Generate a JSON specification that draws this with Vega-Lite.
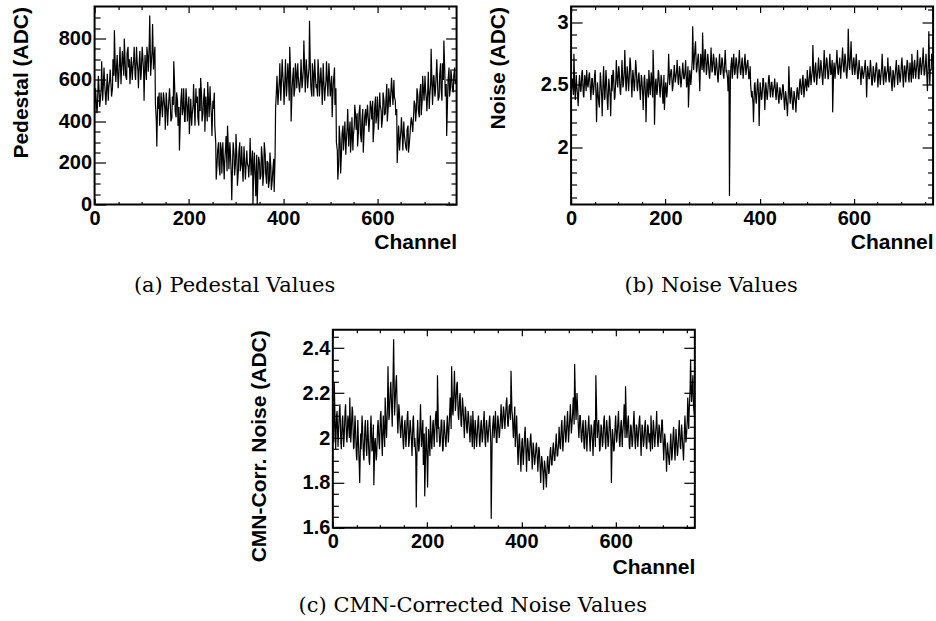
{
"$schema": "https://vega.github.io/schema/vega-lite/v6.json",
"background": "white",
"padding": {"left": 9.3, "top": -1.5, "right": 0, "bottom": 0},
"autosize": {"type": "pad"},
"center": true,
"spacing": 29.3,
"datasets": {"ch": [
{"c":0,"p":430,"n":2.40,"m":2.08},{"c":3,"p":520,"n":2.55,"m":2.25},{"c":6,"p":470,"n":2.75,"m":1.95},{"c":9,"p":580,"n":2.38,"m":2.12},
{"c":12,"p":500,"n":2.50,"m":2.02},{"c":15,"p":690,"n":2.33,"m":2.15},{"c":18,"p":540,"n":2.58,"m":1.95},{"c":21,"p":600,"n":2.45,"m":2.10},
{"c":24,"p":480,"n":2.62,"m":2.00},{"c":27,"p":630,"n":2.40,"m":2.15},{"c":30,"p":560,"n":2.55,"m":1.98},{"c":33,"p":650,"n":2.62,"m":2.08},
{"c":36,"p":520,"n":2.48,"m":2.18},{"c":39,"p":700,"n":2.60,"m":2.02},{"c":42,"p":840,"n":2.38,"m":2.12},{"c":45,"p":590,"n":2.55,"m":1.96},
{"c":48,"p":720,"n":2.45,"m":2.05},{"c":51,"p":600,"n":2.62,"m":1.90},{"c":54,"p":760,"n":2.20,"m":2.00},{"c":57,"p":640,"n":2.45,"m":1.80},
{"c":60,"p":700,"n":2.32,"m":1.95},{"c":63,"p":800,"n":2.55,"m":2.05},{"c":66,"p":620,"n":2.25,"m":1.90},{"c":69,"p":730,"n":2.65,"m":2.08},
{"c":72,"p":660,"n":2.40,"m":1.92},{"c":75,"p":580,"n":2.55,"m":2.02},{"c":78,"p":710,"n":2.30,"m":1.88},{"c":81,"p":650,"n":2.50,"m":2.10},
{"c":84,"p":760,"n":2.25,"m":1.95},{"c":87,"p":600,"n":2.45,"m":1.79},{"c":90,"p":700,"n":2.60,"m":2.00},{"c":93,"p":560,"n":2.40,"m":1.92},
{"c":96,"p":740,"n":2.70,"m":2.08},{"c":99,"p":630,"n":2.48,"m":1.95},{"c":102,"p":720,"n":2.62,"m":2.12},{"c":105,"p":500,"n":2.42,"m":1.92},
{"c":108,"p":680,"n":2.70,"m":2.05},{"c":111,"p":760,"n":2.50,"m":2.18},{"c":114,"p":640,"n":2.78,"m":2.00},{"c":117,"p":910,"n":2.45,"m":2.32},
{"c":120,"p":670,"n":2.60,"m":2.10},{"c":123,"p":870,"n":2.52,"m":2.25},{"c":126,"p":700,"n":2.68,"m":2.05},{"c":129,"p":490,"n":2.40,"m":2.44},
{"c":132,"p":280,"n":2.58,"m":2.15},{"c":135,"p":460,"n":2.50,"m":2.28},{"c":138,"p":380,"n":2.65,"m":2.02},{"c":141,"p":540,"n":2.45,"m":2.12},
{"c":144,"p":420,"n":2.60,"m":2.00},{"c":147,"p":520,"n":2.38,"m":2.10},{"c":150,"p":360,"n":2.55,"m":1.95},{"c":153,"p":500,"n":2.30,"m":2.08},
{"c":156,"p":440,"n":2.58,"m":2.00},{"c":159,"p":560,"n":2.20,"m":2.12},{"c":162,"p":400,"n":2.50,"m":1.98},{"c":165,"p":520,"n":2.62,"m":2.05},
{"c":168,"p":690,"n":2.42,"m":1.92},{"c":171,"p":450,"n":2.55,"m":2.10},{"c":174,"p":540,"n":2.78,"m":2.00},{"c":177,"p":380,"n":2.18,"m":1.69},
{"c":180,"p":260,"n":2.55,"m":2.08},{"c":183,"p":500,"n":2.45,"m":1.95},{"c":186,"p":430,"n":2.60,"m":2.15},{"c":189,"p":560,"n":2.40,"m":2.00},
{"c":192,"p":400,"n":2.55,"m":1.88},{"c":195,"p":520,"n":2.35,"m":1.74},{"c":198,"p":460,"n":2.30,"m":2.05},{"c":201,"p":340,"n":2.52,"m":1.78},
{"c":204,"p":510,"n":2.45,"m":2.00},{"c":207,"p":430,"n":2.75,"m":2.10},{"c":210,"p":580,"n":2.55,"m":1.95},{"c":213,"p":380,"n":2.62,"m":2.08},
{"c":216,"p":490,"n":2.48,"m":2.02},{"c":219,"p":420,"n":2.66,"m":2.12},{"c":222,"p":560,"n":2.55,"m":2.28},{"c":225,"p":610,"n":2.70,"m":2.05},
{"c":228,"p":400,"n":2.50,"m":1.98},{"c":231,"p":500,"n":2.62,"m":2.08},{"c":234,"p":350,"n":2.52,"m":1.95},{"c":237,"p":470,"n":2.68,"m":2.05},
{"c":240,"p":590,"n":2.55,"m":1.96},{"c":243,"p":420,"n":2.70,"m":2.10},{"c":246,"p":500,"n":2.50,"m":2.02},{"c":249,"p":330,"n":2.32,"m":2.18},
{"c":252,"p":460,"n":2.62,"m":2.32},{"c":255,"p":380,"n":2.55,"m":2.10},{"c":258,"p":120,"n":2.97,"m":2.30},{"c":261,"p":260,"n":2.68,"m":2.15},
{"c":264,"p":190,"n":2.85,"m":2.25},{"c":267,"p":300,"n":2.62,"m":2.08},{"c":270,"p":150,"n":2.75,"m":2.20},{"c":273,"p":240,"n":2.45,"m":2.05},
{"c":276,"p":200,"n":2.70,"m":2.15},{"c":279,"p":330,"n":2.92,"m":2.00},{"c":282,"p":380,"n":2.60,"m":2.12},{"c":285,"p":170,"n":2.78,"m":2.02},
{"c":288,"p":260,"n":2.62,"m":2.10},{"c":291,"p":20,"n":2.70,"m":1.98},{"c":294,"p":300,"n":2.55,"m":2.05},{"c":297,"p":140,"n":2.80,"m":2.12},
{"c":300,"p":340,"n":2.62,"m":1.95},{"c":303,"p":90,"n":2.72,"m":2.05},{"c":306,"p":250,"n":2.58,"m":2.00},{"c":309,"p":160,"n":2.68,"m":2.10},
{"c":312,"p":280,"n":2.52,"m":1.96},{"c":315,"p":110,"n":2.75,"m":2.08},{"c":318,"p":230,"n":2.60,"m":2.00},{"c":321,"p":170,"n":2.70,"m":2.12},
{"c":324,"p":200,"n":2.55,"m":1.96},{"c":327,"p":130,"n":2.78,"m":2.05},{"c":330,"p":320,"n":2.62,"m":2.02},{"c":333,"p":180,"n":2.45,"m":2.10},
{"c":336,"p":0,"n":1.61,"m":1.64},{"c":339,"p":250,"n":2.65,"m":2.05},{"c":342,"p":40,"n":2.55,"m":2.00},{"c":345,"p":0,"n":2.75,"m":2.12},
{"c":348,"p":230,"n":2.60,"m":1.98},{"c":351,"p":120,"n":2.70,"m":2.08},{"c":354,"p":280,"n":2.62,"m":2.02},{"c":357,"p":90,"n":2.78,"m":2.15},
{"c":360,"p":300,"n":2.58,"m":2.05},{"c":363,"p":150,"n":2.72,"m":2.12},{"c":366,"p":210,"n":2.60,"m":2.08},{"c":369,"p":80,"n":2.75,"m":2.18},
{"c":372,"p":250,"n":2.62,"m":2.05},{"c":375,"p":70,"n":2.70,"m":2.15},{"c":378,"p":160,"n":2.55,"m":2.30},{"c":381,"p":60,"n":2.50,"m":2.10},
{"c":384,"p":460,"n":2.45,"m":2.05},{"c":387,"p":620,"n":2.20,"m":1.96},{"c":390,"p":520,"n":2.52,"m":2.10},{"c":393,"p":680,"n":2.35,"m":1.88},
{"c":396,"p":560,"n":2.55,"m":2.02},{"c":399,"p":640,"n":2.17,"m":1.85},{"c":402,"p":480,"n":2.48,"m":2.00},{"c":405,"p":700,"n":2.40,"m":1.92},
{"c":408,"p":560,"n":2.55,"m":2.05},{"c":411,"p":640,"n":2.30,"m":1.85},{"c":414,"p":760,"n":2.48,"m":1.98},{"c":417,"p":400,"n":2.42,"m":1.90},
{"c":420,"p":600,"n":2.58,"m":2.02},{"c":423,"p":520,"n":2.40,"m":1.86},{"c":426,"p":680,"n":2.52,"m":1.96},{"c":429,"p":560,"n":2.45,"m":1.90},
{"c":432,"p":620,"n":2.55,"m":1.98},{"c":435,"p":540,"n":2.38,"m":1.85},{"c":438,"p":700,"n":2.48,"m":1.95},{"c":441,"p":580,"n":2.35,"m":1.80},
{"c":444,"p":790,"n":2.45,"m":1.90},{"c":447,"p":540,"n":2.40,"m":1.77},{"c":450,"p":660,"n":2.50,"m":1.88},{"c":453,"p":600,"n":2.30,"m":1.78},
{"c":456,"p":885,"n":2.42,"m":1.92},{"c":459,"p":560,"n":2.25,"m":1.85},{"c":462,"p":680,"n":2.65,"m":1.96},{"c":465,"p":520,"n":2.35,"m":1.88},
{"c":468,"p":640,"n":2.45,"m":1.98},{"c":471,"p":580,"n":2.30,"m":1.90},{"c":474,"p":700,"n":2.42,"m":2.02},{"c":477,"p":520,"n":2.28,"m":1.92},
{"c":480,"p":660,"n":2.48,"m":2.05},{"c":483,"p":480,"n":2.38,"m":1.95},{"c":486,"p":620,"n":2.55,"m":2.08},{"c":489,"p":540,"n":2.42,"m":1.98},
{"c":492,"p":690,"n":2.58,"m":2.10},{"c":495,"p":520,"n":2.45,"m":2.00},{"c":498,"p":640,"n":2.52,"m":2.12},{"c":501,"p":560,"n":2.62,"m":2.02},
{"c":504,"p":420,"n":2.48,"m":2.15},{"c":507,"p":600,"n":2.65,"m":2.05},{"c":510,"p":480,"n":2.55,"m":2.18},{"c":513,"p":300,"n":2.82,"m":2.33},
{"c":516,"p":120,"n":2.52,"m":2.08},{"c":519,"p":380,"n":2.68,"m":2.15},{"c":522,"p":150,"n":2.55,"m":2.00},{"c":525,"p":340,"n":2.72,"m":2.10},
{"c":528,"p":260,"n":2.58,"m":1.98},{"c":531,"p":400,"n":2.65,"m":2.08},{"c":534,"p":300,"n":2.50,"m":1.95},{"c":537,"p":460,"n":2.78,"m":2.05},
{"c":540,"p":340,"n":2.60,"m":2.00},{"c":543,"p":250,"n":2.70,"m":2.10},{"c":546,"p":420,"n":2.55,"m":1.94},{"c":549,"p":330,"n":2.75,"m":2.05},
{"c":552,"p":480,"n":2.60,"m":1.92},{"c":555,"p":360,"n":2.28,"m":2.08},{"c":558,"p":280,"n":2.68,"m":2.28},{"c":561,"p":440,"n":2.62,"m":2.00},
{"c":564,"p":340,"n":2.78,"m":2.08},{"c":567,"p":400,"n":2.58,"m":1.95},{"c":570,"p":250,"n":2.72,"m":2.05},{"c":573,"p":420,"n":2.62,"m":1.98},
{"c":576,"p":380,"n":2.80,"m":2.10},{"c":579,"p":480,"n":2.60,"m":1.95},{"c":582,"p":350,"n":2.72,"m":2.05},{"c":585,"p":500,"n":2.55,"m":1.98},
{"c":588,"p":410,"n":2.95,"m":2.08},{"c":591,"p":300,"n":2.62,"m":1.80},{"c":594,"p":460,"n":2.85,"m":2.02},{"c":597,"p":390,"n":2.58,"m":1.95},
{"c":600,"p":520,"n":2.72,"m":2.10},{"c":603,"p":420,"n":2.62,"m":2.00},{"c":606,"p":480,"n":2.68,"m":2.12},{"c":609,"p":370,"n":2.55,"m":1.96},
{"c":612,"p":540,"n":2.65,"m":2.08},{"c":615,"p":430,"n":2.50,"m":2.02},{"c":618,"p":500,"n":2.62,"m":2.15},{"c":621,"p":400,"n":2.58,"m":2.23},
{"c":624,"p":560,"n":2.70,"m":2.00},{"c":627,"p":470,"n":2.40,"m":2.10},{"c":630,"p":610,"n":2.62,"m":1.95},{"c":633,"p":480,"n":2.55,"m":2.05},
{"c":636,"p":520,"n":2.65,"m":1.98},{"c":639,"p":430,"n":2.50,"m":2.12},{"c":642,"p":200,"n":2.62,"m":1.95},{"c":645,"p":380,"n":2.55,"m":2.05},
{"c":648,"p":300,"n":2.68,"m":2.00},{"c":651,"p":420,"n":2.48,"m":2.10},{"c":654,"p":260,"n":2.62,"m":1.92},{"c":657,"p":340,"n":2.55,"m":2.05},
{"c":660,"p":280,"n":2.75,"m":1.98},{"c":663,"p":360,"n":2.50,"m":2.08},{"c":666,"p":250,"n":2.65,"m":1.95},{"c":669,"p":330,"n":2.58,"m":2.05},
{"c":672,"p":420,"n":2.72,"m":2.02},{"c":675,"p":350,"n":2.52,"m":2.10},{"c":678,"p":500,"n":2.62,"m":1.95},{"c":681,"p":400,"n":2.45,"m":2.05},
{"c":684,"p":560,"n":2.60,"m":2.00},{"c":687,"p":450,"n":2.55,"m":2.12},{"c":690,"p":540,"n":2.70,"m":1.96},{"c":693,"p":430,"n":2.50,"m":2.05},
{"c":696,"p":620,"n":2.62,"m":1.98},{"c":699,"p":500,"n":2.55,"m":2.08},{"c":702,"p":560,"n":2.72,"m":1.90},{"c":705,"p":450,"n":2.48,"m":2.00},
{"c":708,"p":640,"n":2.65,"m":1.85},{"c":711,"p":520,"n":2.58,"m":1.95},{"c":714,"p":750,"n":2.68,"m":1.88},{"c":717,"p":480,"n":2.52,"m":2.02},
{"c":720,"p":620,"n":2.62,"m":1.92},{"c":723,"p":540,"n":2.75,"m":2.05},{"c":726,"p":700,"n":2.55,"m":1.90},{"c":729,"p":500,"n":2.70,"m":2.00},
{"c":732,"p":620,"n":2.60,"m":1.94},{"c":735,"p":560,"n":2.78,"m":2.08},{"c":738,"p":680,"n":2.55,"m":1.95},{"c":741,"p":790,"n":2.72,"m":2.02},
{"c":744,"p":520,"n":2.62,"m":1.90},{"c":747,"p":330,"n":2.80,"m":2.10},{"c":750,"p":600,"n":2.58,"m":2.00},{"c":753,"p":520,"n":2.75,"m":2.18},
{"c":756,"p":650,"n":2.45,"m":2.12},{"c":759,"p":560,"n":2.93,"m":2.35},{"c":762,"p":620,"n":2.62,"m":2.20},{"c":765,"p":580,"n":2.75,"m":2.15},
{"c":767,"p":600,"n":2.70,"m":2.10},
{"c":2,"p":560,"n":2.52,"m":1.98},{"c":5,"p":440,"n":2.42,"m":2.05},{"c":8,"p":620,"n":2.45,"m":2.10},{"c":11,"p":470,"n":2.58,"m":1.96},
{"c":14,"p":560,"n":2.40,"m":2.12},{"c":17,"p":500,"n":2.52,"m":1.98},{"c":20,"p":660,"n":2.45,"m":2.08},{"c":23,"p":520,"n":2.60,"m":1.96},
{"c":26,"p":580,"n":2.42,"m":2.12},{"c":29,"p":500,"n":2.58,"m":2.00},{"c":32,"p":600,"n":2.45,"m":2.10},{"c":35,"p":570,"n":2.50,"m":2.00},
{"c":38,"p":560,"n":2.58,"m":1.98},{"c":41,"p":620,"n":2.45,"m":2.14},{"c":44,"p":650,"n":2.55,"m":1.95},{"c":47,"p":680,"n":2.42,"m":2.10},
{"c":50,"p":560,"n":2.58,"m":1.92},{"c":53,"p":700,"n":2.40,"m":2.08},{"c":56,"p":580,"n":2.52,"m":1.88},{"c":59,"p":740,"n":2.35,"m":2.02},
{"c":62,"p":620,"n":2.60,"m":2.10},{"c":65,"p":680,"n":2.40,"m":1.92},{"c":68,"p":600,"n":2.55,"m":2.05},{"c":71,"p":760,"n":2.38,"m":1.95},
{"c":74,"p":700,"n":2.62,"m":2.08},{"c":77,"p":660,"n":2.35,"m":1.90},{"c":80,"p":600,"n":2.55,"m":2.05},{"c":83,"p":700,"n":2.40,"m":1.94},
{"c":86,"p":620,"n":2.58,"m":2.06},{"c":89,"p":760,"n":2.62,"m":1.98},{"c":92,"p":640,"n":2.38,"m":1.90},{"c":95,"p":700,"n":2.55,"m":2.05},
{"c":98,"p":600,"n":2.52,"m":1.98},{"c":101,"p":760,"n":2.65,"m":2.10},{"c":104,"p":640,"n":2.45,"m":1.98},{"c":107,"p":720,"n":2.58,"m":2.10},
{"c":110,"p":600,"n":2.48,"m":1.96},{"c":113,"p":700,"n":2.62,"m":2.04},{"c":116,"p":780,"n":2.50,"m":2.15},{"c":119,"p":620,"n":2.65,"m":2.08},
{"c":122,"p":740,"n":2.45,"m":2.22},{"c":125,"p":650,"n":2.72,"m":2.12},{"c":128,"p":760,"n":2.50,"m":2.30},{"c":131,"p":400,"n":2.62,"m":2.10},
{"c":134,"p":520,"n":2.45,"m":2.25},{"c":137,"p":540,"n":2.70,"m":2.08},{"c":140,"p":460,"n":2.48,"m":2.15},{"c":143,"p":470,"n":2.58,"m":2.04},
{"c":146,"p":540,"n":2.45,"m":2.08},{"c":149,"p":460,"n":2.58,"m":1.98},{"c":152,"p":540,"n":2.42,"m":2.06},{"c":155,"p":380,"n":2.55,"m":1.96},
{"c":158,"p":520,"n":2.40,"m":2.10},{"c":161,"p":460,"n":2.55,"m":1.96},{"c":164,"p":420,"n":2.40,"m":2.08},{"c":167,"p":480,"n":2.48,"m":1.98},
{"c":170,"p":560,"n":2.60,"m":2.08},{"c":173,"p":420,"n":2.40,"m":1.96},{"c":176,"p":500,"n":2.50,"m":1.92},{"c":179,"p":470,"n":2.52,"m":2.02},
{"c":182,"p":420,"n":2.42,"m":1.94},{"c":185,"p":560,"n":2.62,"m":2.06},{"c":188,"p":470,"n":2.45,"m":1.96},{"c":191,"p":400,"n":2.58,"m":2.08},
{"c":194,"p":560,"n":2.42,"m":2.02},{"c":197,"p":400,"n":2.58,"m":1.96},{"c":200,"p":520,"n":2.48,"m":1.90},{"c":203,"p":440,"n":2.40,"m":2.04},
{"c":206,"p":380,"n":2.60,"m":1.92},{"c":209,"p":480,"n":2.50,"m":1.98},{"c":212,"p":440,"n":2.62,"m":2.06},{"c":215,"p":560,"n":2.45,"m":1.96},
{"c":218,"p":520,"n":2.60,"m":2.10},{"c":221,"p":380,"n":2.52,"m":1.98},{"c":224,"p":450,"n":2.62,"m":2.04},{"c":227,"p":520,"n":2.52,"m":1.96},
{"c":230,"p":440,"n":2.65,"m":2.08},{"c":233,"p":560,"n":2.48,"m":1.94},{"c":236,"p":520,"n":2.62,"m":2.08},{"c":239,"p":400,"n":2.55,"m":1.98},
{"c":242,"p":480,"n":2.62,"m":2.06},{"c":245,"p":570,"n":2.48,"m":1.98},{"c":248,"p":420,"n":2.65,"m":2.12},{"c":251,"p":500,"n":2.55,"m":2.04},
{"c":254,"p":540,"n":2.50,"m":2.12},{"c":257,"p":300,"n":2.70,"m":2.22},{"c":260,"p":200,"n":2.62,"m":2.12},{"c":263,"p":300,"n":2.80,"m":2.24},
{"c":266,"p":140,"n":2.60,"m":2.10},{"c":269,"p":260,"n":2.72,"m":2.18},{"c":272,"p":300,"n":2.58,"m":2.06},{"c":275,"p":120,"n":2.75,"m":2.18},
{"c":278,"p":280,"n":2.62,"m":2.06},{"c":281,"p":160,"n":2.65,"m":2.14},{"c":284,"p":260,"n":2.78,"m":2.04},{"c":287,"p":300,"n":2.58,"m":2.12},
{"c":290,"p":140,"n":2.75,"m":2.02},{"c":293,"p":220,"n":2.58,"m":2.10},{"c":296,"p":240,"n":2.70,"m":1.96},{"c":299,"p":200,"n":2.60,"m":2.02},
{"c":302,"p":220,"n":2.75,"m":2.08},{"c":305,"p":160,"n":2.58,"m":1.96},{"c":308,"p":300,"n":2.72,"m":2.08},{"c":311,"p":200,"n":2.55,"m":1.98},
{"c":314,"p":160,"n":2.68,"m":2.06},{"c":317,"p":280,"n":2.58,"m":1.98},{"c":320,"p":120,"n":2.72,"m":2.08},{"c":323,"p":260,"n":2.58,"m":1.98},
{"c":326,"p":180,"n":2.70,"m":2.08},{"c":329,"p":220,"n":2.60,"m":1.98},{"c":332,"p":140,"n":2.55,"m":2.08},{"c":335,"p":260,"n":2.62,"m":1.98},
{"c":338,"p":200,"n":2.55,"m":2.00},{"c":341,"p":120,"n":2.72,"m":2.10},{"c":344,"p":240,"n":2.68,"m":2.06},{"c":347,"p":160,"n":2.58,"m":1.98},
{"c":350,"p":200,"n":2.72,"m":2.10},{"c":353,"p":140,"n":2.55,"m":2.00},{"c":356,"p":220,"n":2.70,"m":2.10},{"c":359,"p":160,"n":2.60,"m":2.04},
{"c":362,"p":240,"n":2.68,"m":2.14},{"c":365,"p":100,"n":2.55,"m":2.04},{"c":368,"p":200,"n":2.70,"m":2.16},{"c":371,"p":120,"n":2.58,"m":2.06},
{"c":374,"p":180,"n":2.68,"m":2.14},{"c":377,"p":120,"n":2.55,"m":2.08},{"c":380,"p":220,"n":2.65,"m":2.12},{"c":383,"p":240,"n":2.40,"m":2.00},
{"c":386,"p":560,"n":2.35,"m":2.14},{"c":389,"p":480,"n":2.50,"m":2.04},{"c":392,"p":600,"n":2.38,"m":1.94},{"c":395,"p":500,"n":2.50,"m":2.00},
{"c":398,"p":700,"n":2.40,"m":1.90},{"c":401,"p":560,"n":2.52,"m":1.98},{"c":404,"p":620,"n":2.38,"m":1.88},{"c":407,"p":520,"n":2.55,"m":2.02},
{"c":410,"p":680,"n":2.42,"m":1.92},{"c":413,"p":500,"n":2.52,"m":2.00},{"c":416,"p":620,"n":2.38,"m":1.90},{"c":419,"p":560,"n":2.55,"m":2.00},
{"c":422,"p":660,"n":2.45,"m":1.92},{"c":425,"p":560,"n":2.52,"m":1.98},{"c":428,"p":620,"n":2.40,"m":1.88},{"c":431,"p":680,"n":2.50,"m":1.96},
{"c":434,"p":560,"n":2.42,"m":1.90},{"c":437,"p":620,"n":2.52,"m":1.96},{"c":440,"p":560,"n":2.38,"m":1.86},{"c":443,"p":660,"n":2.48,"m":1.92},
{"c":446,"p":620,"n":2.38,"m":1.84},{"c":449,"p":700,"n":2.50,"m":1.90},{"c":452,"p":560,"n":2.36,"m":1.82},{"c":455,"p":660,"n":2.45,"m":1.90},
{"c":458,"p":620,"n":2.32,"m":1.84},{"c":461,"p":520,"n":2.45,"m":1.94},{"c":464,"p":620,"n":2.40,"m":1.88},{"c":467,"p":700,"n":2.48,"m":1.96},
{"c":470,"p":560,"n":2.32,"m":1.90},{"c":473,"p":520,"n":2.45,"m":1.98},{"c":476,"p":620,"n":2.35,"m":1.92},{"c":479,"p":600,"n":2.45,"m":1.98},
{"c":482,"p":560,"n":2.40,"m":1.96},{"c":485,"p":680,"n":2.52,"m":2.06},{"c":488,"p":500,"n":2.45,"m":1.94},{"c":491,"p":600,"n":2.55,"m":2.06},
{"c":494,"p":580,"n":2.40,"m":1.98},{"c":497,"p":680,"n":2.55,"m":2.08},{"c":500,"p":520,"n":2.45,"m":1.98},{"c":503,"p":620,"n":2.50,"m":2.10},
{"c":506,"p":560,"n":2.58,"m":2.02},{"c":509,"p":660,"n":2.50,"m":2.12},{"c":512,"p":560,"n":2.62,"m":2.06},{"c":515,"p":260,"n":2.55,"m":2.14},
{"c":518,"p":200,"n":2.65,"m":2.20},{"c":521,"p":300,"n":2.50,"m":2.04},{"c":524,"p":260,"n":2.65,"m":2.10},{"c":527,"p":380,"n":2.55,"m":2.00},
{"c":530,"p":340,"n":2.70,"m":2.06},{"c":533,"p":240,"n":2.55,"m":1.96},{"c":536,"p":380,"n":2.68,"m":2.08},{"c":539,"p":280,"n":2.55,"m":1.94},
{"c":542,"p":400,"n":2.72,"m":2.06},{"c":545,"p":330,"n":2.55,"m":1.98},{"c":548,"p":260,"n":2.68,"m":2.06},{"c":551,"p":380,"n":2.58,"m":1.98},
{"c":554,"p":420,"n":2.70,"m":2.06},{"c":557,"p":440,"n":2.62,"m":1.96},{"c":560,"p":360,"n":2.55,"m":2.08},{"c":563,"p":480,"n":2.70,"m":2.06},
{"c":566,"p":300,"n":2.60,"m":1.94},{"c":569,"p":460,"n":2.68,"m":2.06},{"c":572,"p":360,"n":2.55,"m":1.96},{"c":575,"p":460,"n":2.72,"m":2.08},
{"c":578,"p":440,"n":2.62,"m":1.98},{"c":581,"p":400,"n":2.75,"m":2.08},{"c":584,"p":430,"n":2.58,"m":1.96},{"c":587,"p":460,"n":2.70,"m":2.10},
{"c":590,"p":500,"n":2.65,"m":1.98},{"c":593,"p":380,"n":2.75,"m":2.04},{"c":596,"p":520,"n":2.62,"m":1.94},{"c":599,"p":440,"n":2.70,"m":2.06},
{"c":602,"p":360,"n":2.58,"m":1.98},{"c":605,"p":540,"n":2.75,"m":2.08},{"c":608,"p":450,"n":2.55,"m":1.98},{"c":611,"p":420,"n":2.70,"m":2.06},
{"c":614,"p":500,"n":2.58,"m":1.96},{"c":617,"p":440,"n":2.65,"m":2.08},{"c":620,"p":580,"n":2.55,"m":2.00},{"c":623,"p":470,"n":2.65,"m":2.04},
{"c":626,"p":500,"n":2.55,"m":2.08},{"c":629,"p":560,"n":2.65,"m":1.96},{"c":632,"p":520,"n":2.55,"m":2.06},{"c":635,"p":600,"n":2.70,"m":1.96},
{"c":638,"p":500,"n":2.50,"m":2.08},{"c":641,"p":460,"n":2.65,"m":1.98},{"c":644,"p":320,"n":2.52,"m":2.06},{"c":647,"p":260,"n":2.66,"m":1.96},
{"c":650,"p":360,"n":2.55,"m":2.08},{"c":653,"p":320,"n":2.62,"m":1.98},{"c":656,"p":400,"n":2.50,"m":2.06},{"c":659,"p":300,"n":2.65,"m":1.96},
{"c":662,"p":260,"n":2.55,"m":2.06},{"c":665,"p":380,"n":2.62,"m":1.96},{"c":668,"p":300,"n":2.52,"m":2.06},{"c":671,"p":400,"n":2.62,"m":1.98},
{"c":674,"p":380,"n":2.55,"m":1.94},{"c":677,"p":440,"n":2.65,"m":2.00},{"c":680,"p":480,"n":2.50,"m":2.08},{"c":683,"p":460,"n":2.62,"m":1.96},
{"c":686,"p":520,"n":2.48,"m":2.06},{"c":689,"p":420,"n":2.65,"m":1.98},{"c":692,"p":580,"n":2.55,"m":2.06},{"c":695,"p":500,"n":2.66,"m":1.98},
{"c":698,"p":540,"n":2.52,"m":2.08},{"c":701,"p":620,"n":2.68,"m":1.96},{"c":704,"p":500,"n":2.55,"m":2.02},{"c":707,"p":560,"n":2.65,"m":1.92},
{"c":710,"p":460,"n":2.52,"m":1.98},{"c":713,"p":580,"n":2.70,"m":1.90},{"c":716,"p":560,"n":2.55,"m":1.98},{"c":719,"p":620,"n":2.68,"m":1.90},
{"c":722,"p":520,"n":2.52,"m":2.02},{"c":725,"p":640,"n":2.60,"m":1.94},{"c":728,"p":560,"n":2.68,"m":2.04},{"c":731,"p":520,"n":2.55,"m":1.92},
{"c":734,"p":680,"n":2.68,"m":2.04},{"c":737,"p":500,"n":2.55,"m":1.96},{"c":740,"p":600,"n":2.70,"m":2.06},{"c":743,"p":640,"n":2.58,"m":1.94},
{"c":746,"p":580,"n":2.72,"m":2.04},{"c":749,"p":520,"n":2.58,"m":1.98},{"c":752,"p":660,"n":2.68,"m":2.08},{"c":755,"p":560,"n":2.55,"m":2.04},
{"c":758,"p":600,"n":2.70,"m":2.22},{"c":761,"p":540,"n":2.50,"m":2.16},{"c":764,"p":660,"n":2.62,"m":2.28}
]},
"vconcat": [
{
"hconcat": [
{
"width": 362, "height": 198,
"data": {"name": "ch"},
"title": {"text": "(a) Pedestal Values", "offset": 22},
"layer": [
{"mark": {"type": "line", "color": "black", "strokeWidth": 1.2},
 "encoding": {
  "x": {"field": "c", "type": "quantitative", "scale": {"domain": [0, 768], "nice": false, "zero": false},
   "axis": {"orient": "bottom", "values": [0,50,100,150,200,250,300,350,400,450,500,550,600,650,700,750],
    "labelExpr": "datum.value % 200 === 0 ? datum.label : ''",
    "tickSize": {"condition": {"test": "datum.value % 200 === 0", "value": -6}, "value": -3},
    "labelPadding": 10, "title": "Channel", "titleX": 362, "titleY": 44, "titleAngle": 0, "titleAlign": "right", "titleAnchor": "end", "titleBaseline": "alphabetic"}},
  "y": {"field": "p", "type": "quantitative", "scale": {"domain": [0, 954], "nice": false, "zero": false},
   "axis": {"orient": "left", "values": [0,50,100,150,200,250,300,350,400,450,500,550,600,650,700,750,800,850,900],
    "labelExpr": "datum.value % 200 === 0 ? datum.label : ''",
    "tickSize": {"condition": {"test": "datum.value % 200 === 0", "value": -11}, "value": -5.5},
    "labelPadding": 14, "title": "Pedestal (ADC)", "titleX": -73, "titleY": 0, "titleAngle": 270, "titleAlign": "right", "titleBaseline": "middle"}}
 }},
{"mark": {"type": "line", "opacity": 0},
 "encoding": {
  "x": {"field": "c", "type": "quantitative", "scale": {"domain": [0, 768], "nice": false, "zero": false},
   "axis": {"orient": "top", "values": [0,50,100,150,200,250,300,350,400,450,500,550,600,650,700,750], "labels": false, "title": null,
    "tickSize": {"condition": {"test": "datum.value % 200 === 0", "value": -6}, "value": -3}}},
  "y": {"field": "p", "type": "quantitative", "scale": {"domain": [0, 954], "nice": false, "zero": false},
   "axis": {"orient": "right", "values": [0,50,100,150,200,250,300,350,400,450,500,550,600,650,700,750,800,850,900], "labels": false, "title": null,
    "tickSize": {"condition": {"test": "datum.value % 200 === 0", "value": -11}, "value": -5.5}}}
 }}
],
"resolve": {"axis": {"x": "independent", "y": "independent"}}
},
{
"width": 362, "height": 198,
"data": {"name": "ch"},
"title": {"text": "(b) Noise Values", "offset": 22},
"layer": [
{"mark": {"type": "line", "color": "black", "strokeWidth": 1.2},
 "encoding": {
  "x": {"field": "c", "type": "quantitative", "scale": {"domain": [0, 768], "nice": false, "zero": false},
   "axis": {"orient": "bottom", "values": [0,50,100,150,200,250,300,350,400,450,500,550,600,650,700,750],
    "labelExpr": "datum.value % 200 === 0 ? datum.label : ''",
    "tickSize": {"condition": {"test": "datum.value % 200 === 0", "value": -6}, "value": -3},
    "labelPadding": 10, "title": "Channel", "titleX": 362, "titleY": 44, "titleAngle": 0, "titleAlign": "right", "titleAnchor": "end", "titleBaseline": "alphabetic"}},
  "y": {"field": "n", "type": "quantitative", "scale": {"domain": [1.542, 3.128], "nice": false, "zero": false},
   "axis": {"orient": "left", "values": [1.6,1.7,1.8,1.9,2,2.1,2.2,2.3,2.4,2.5,2.6,2.7,2.8,2.9,3,3.1],
    "labelExpr": "abs(datum.value*2 - round(datum.value*2)) < 0.001 ? format(datum.value, '~g') : ''",
    "tickSize": {"condition": {"test": "abs(datum.value*2 - round(datum.value*2)) < 0.001", "value": -11}, "value": -5.5},
    "labelPadding": 14, "title": "Noise (ADC)", "titleX": -73, "titleY": 0, "titleAngle": 270, "titleAlign": "right", "titleBaseline": "middle"}}
 }},
{"mark": {"type": "line", "opacity": 0},
 "encoding": {
  "x": {"field": "c", "type": "quantitative", "scale": {"domain": [0, 768], "nice": false, "zero": false},
   "axis": {"orient": "top", "values": [0,50,100,150,200,250,300,350,400,450,500,550,600,650,700,750], "labels": false, "title": null,
    "tickSize": {"condition": {"test": "datum.value % 200 === 0", "value": -6}, "value": -3}}},
  "y": {"field": "n", "type": "quantitative", "scale": {"domain": [1.542, 3.128], "nice": false, "zero": false},
   "axis": {"orient": "right", "values": [1.6,1.7,1.8,1.9,2,2.1,2.2,2.3,2.4,2.5,2.6,2.7,2.8,2.9,3,3.1], "labels": false, "title": null,
    "tickSize": {"condition": {"test": "abs(datum.value*2 - round(datum.value*2)) < 0.001", "value": -11}, "value": -5.5}}}
 }}
],
"resolve": {"axis": {"x": "independent", "y": "independent"}}
}
],
"spacing": 26.5
},
{
"width": 362, "height": 198,
"data": {"name": "ch"},
"title": {"text": "(c) CMN-Corrected Noise Values", "offset": 17},
"layer": [
{"mark": {"type": "line", "color": "black", "strokeWidth": 1.2},
 "encoding": {
  "x": {"field": "c", "type": "quantitative", "scale": {"domain": [0, 768], "nice": false, "zero": false},
   "axis": {"orient": "bottom", "values": [0,50,100,150,200,250,300,350,400,450,500,550,600,650,700,750],
    "labelExpr": "datum.value % 200 === 0 ? datum.label : ''",
    "tickSize": {"condition": {"test": "datum.value % 200 === 0", "value": -6}, "value": -3},
    "labelPadding": 10, "title": "Channel", "titleX": 362, "titleY": 46, "titleAngle": 0, "titleAlign": "right", "titleAnchor": "end", "titleBaseline": "alphabetic"}},
  "y": {"field": "m", "type": "quantitative", "scale": {"domain": [1.6, 2.482], "nice": false, "zero": false},
   "axis": {"orient": "left", "values": [1.6,1.65,1.7,1.75,1.8,1.85,1.9,1.95,2,2.05,2.1,2.15,2.2,2.25,2.3,2.35,2.4,2.45],
    "labelExpr": "abs(datum.value*5 - round(datum.value*5)) < 0.001 ? format(datum.value, '~g') : ''",
    "tickSize": {"condition": {"test": "abs(datum.value*5 - round(datum.value*5)) < 0.001", "value": -11}, "value": -5.5},
    "labelPadding": 14, "title": "CMN-Corr. Noise (ADC)", "titleX": -73, "titleY": 0, "titleAngle": 270, "titleAlign": "right", "titleBaseline": "middle"}}
 }},
{"mark": {"type": "line", "opacity": 0},
 "encoding": {
  "x": {"field": "c", "type": "quantitative", "scale": {"domain": [0, 768], "nice": false, "zero": false},
   "axis": {"orient": "top", "values": [0,50,100,150,200,250,300,350,400,450,500,550,600,650,700,750], "labels": false, "title": null,
    "tickSize": {"condition": {"test": "datum.value % 200 === 0", "value": -6}, "value": -3}}},
  "y": {"field": "m", "type": "quantitative", "scale": {"domain": [1.6, 2.482], "nice": false, "zero": false},
   "axis": {"orient": "right", "values": [1.6,1.65,1.7,1.75,1.8,1.85,1.9,1.95,2,2.05,2.1,2.15,2.2,2.25,2.3,2.35,2.4,2.45], "labels": false, "title": null,
    "tickSize": {"condition": {"test": "abs(datum.value*5 - round(datum.value*5)) < 0.001", "value": -11}, "value": -5.5}}}
 }}
],
"resolve": {"axis": {"x": "independent", "y": "independent"}}
}
],
"config": {
 "view": {"stroke": "black", "strokeWidth": 2},
 "axis": {"domain": false, "grid": false, "labelFont": "Liberation Sans", "labelFontSize": 20, "labelFontWeight": "bold", "labelColor": "black",
  "titleFont": "Liberation Sans", "titleFontSize": 21, "titleFontWeight": "bold", "titleColor": "black",
  "tickColor": "black", "tickWidth": 1.2, "labelFlush": false, "labelOverlap": false, "labelBound": false},
 "title": {"orient": "bottom", "anchor": "middle", "frame": "bounds", "font": "DejaVu Serif", "fontSize": 21, "fontWeight": "normal", "color": "black", "baseline": "top"}
}
}
